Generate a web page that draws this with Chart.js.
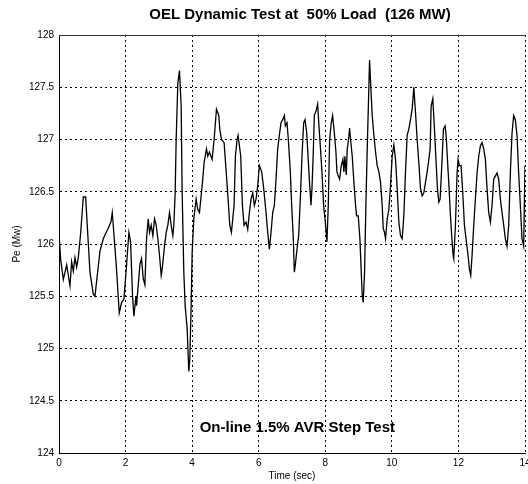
<!DOCTYPE html>
<html>
<head>
<meta charset="utf-8">
<title>OEL Dynamic Test</title>
<script src="https://cdn.jsdelivr.net/npm/chart.js@4.4.1/dist/chart.umd.min.js"></script>
<style>
  body { margin: 0; background: #fff; }
  canvas { display: block; }
</style>
</head>
<body>
<canvas id="myChart" width="528" height="484"></canvas>
<script>
'use strict';

let chartTitle = 'OEL Dynamic Test at  50% Load  (126 MW)';
let noteText = 'On-line 1.5% AVR Step Test';
let xTitle = 'Time (sec)';
let yTitle = 'Pe (Mw)';

let xTicks = [0, 2, 4, 6, 8, 10, 12, 14];
let xTickLabels = ['0', '2', '4', '6', '8', '10', '12', '14'];
let yTicks = [124, 124.5, 125, 125.5, 126, 126.5, 127, 127.5, 128];
let yTickLabels = ['124', '124.5', '125', '125.5', '126', '126.5', '127', '127.5', '128'];

// time (sec)
let timeSec = [
  0.00, 0.05, 0.13, 0.23, 0.33, 0.38, 0.43, 0.48, 0.53, 0.58,
  0.65, 0.73, 0.80, 0.93, 1.03, 1.08, 1.23, 1.33, 1.43, 1.48,
  1.56, 1.60, 1.63, 1.73, 1.81, 1.88, 1.95, 2.03, 2.10, 2.15,
  2.21, 2.25, 2.31, 2.33, 2.43, 2.48, 2.53, 2.58, 2.63, 2.68,

  2.72, 2.77, 2.82, 2.87, 2.92, 2.97, 3.02, 3.07, 3.10, 3.17,
  3.22, 3.27, 3.32, 3.37, 3.42, 3.45, 3.49, 3.52, 3.57, 3.62,
  3.67, 3.70, 3.75, 3.79, 3.85, 3.90, 3.93, 3.97, 4.00, 4.05,
  4.12, 4.17, 4.22, 4.27, 4.31, 4.36, 4.43, 4.47, 4.52, 4.60,
  4.66, 4.73, 4.80, 4.83, 4.88, 4.96, 5.01, 5.08, 5.13, 5.18,
  5.26, 5.30, 5.35, 5.38, 5.46, 5.51, 5.56,

  5.62, 5.67, 5.72, 5.77, 5.82, 5.87, 5.92, 5.97, 6.02, 6.09,
  6.15, 6.22, 6.27, 6.32, 6.37, 6.42, 6.47, 6.52, 6.57, 6.62,
  6.67, 6.72, 6.77, 6.80, 6.85, 6.89, 6.95, 6.99, 7.04, 7.07,
  7.10, 7.15, 7.20, 7.25, 7.30, 7.35, 7.39, 7.44, 7.47, 7.52,
  7.57, 7.60, 7.64, 7.67, 7.72, 7.77, 7.81, 7.85, 7.90, 7.95,
  8.00, 8.05, 8.09, 8.13, 8.18, 8.22, 8.27, 8.32, 8.35,

  8.38, 8.43, 8.48, 8.53, 8.56, 8.59, 8.63, 8.66, 8.70, 8.73,
  8.76, 8.81, 8.86, 8.91, 8.94, 8.99, 9.04, 9.08, 9.11, 9.14,
  9.18, 9.22, 9.26, 9.30, 9.33, 9.36, 9.41, 9.46, 9.51, 9.56,
  9.61, 9.66, 9.71, 9.74, 9.78, 9.81, 9.86, 9.91, 9.96, 10.01,
  10.06, 10.11, 10.16, 10.21, 10.26, 10.31, 10.36, 10.41, 10.46, 10.51,
  10.56, 10.61, 10.66, 10.71, 10.76, 10.81, 10.86, 10.91, 10.96, 11.01,
  11.06,

  11.10, 11.15, 11.18, 11.23, 11.27, 11.32, 11.37, 11.41, 11.45, 11.50,
  11.55, 11.60, 11.63, 11.67, 11.72, 11.76, 11.81, 11.84, 11.86, 11.91,
  11.96, 11.99, 12.03, 12.08, 12.13, 12.18, 12.24, 12.29, 12.33, 12.37,
  12.41, 12.46, 12.51, 12.56, 12.61, 12.66, 12.71, 12.76, 12.81, 12.86,
  12.91, 12.96, 13.01, 13.06, 13.11, 13.16, 13.21, 13.26, 13.31, 13.36,
  13.41, 13.46, 13.51, 13.56, 13.61, 13.66, 13.71, 13.76, 13.81, 13.86,
  13.91, 13.96, 14.00
];

// electrical power Pe (MW), same order as timeSec
let powerMw = [
  126.10, 125.85, 125.66, 125.80, 125.60, 125.83, 125.74, 125.87, 125.78, 125.87,
  126.10, 126.45, 126.45, 125.73, 125.52, 125.50, 125.93, 126.05, 126.12, 126.15,
  126.21, 126.30, 126.18, 125.75, 125.34, 125.44, 125.47, 125.80, 126.11, 126.02,
  125.50, 125.31, 125.50, 125.41, 125.80, 125.86, 125.67, 125.61, 126.05, 126.24,

  126.11, 126.18, 126.08, 126.24, 126.18, 126.05, 125.89, 125.70, 125.76, 125.98,
  126.11, 126.18, 126.30, 126.18, 126.08, 126.18, 126.49, 127.00, 127.54, 127.66,
  127.32, 126.49, 125.73, 125.41, 125.19, 124.78, 124.90, 125.40, 125.92, 126.24,
  126.43, 126.33, 126.30, 126.46, 126.59, 126.78, 126.91, 126.84, 126.88, 126.81,
  127.00, 127.29, 127.23, 127.10, 127.00, 126.97, 126.75, 126.43, 126.18, 126.11,
  126.37, 126.84, 127.00, 127.04, 126.84, 126.37, 126.18,

  126.21, 126.14, 126.30, 126.43, 126.49, 126.37, 126.43, 126.56, 126.75, 126.69,
  126.53, 126.30, 126.11, 125.95, 126.11, 126.30, 126.37, 126.62, 126.91, 127.04,
  127.16, 127.19, 127.23, 127.13, 127.16, 127.00, 126.69, 126.37, 126.05, 125.73,
  125.80, 125.95, 126.08, 126.43, 126.84, 127.16, 127.19, 127.07, 126.91, 126.62,
  126.37, 126.53, 126.88, 127.23, 127.27, 127.34, 127.13, 126.94, 126.69, 126.37,
  126.21, 126.02, 126.37, 127.00, 127.16, 127.23, 127.07, 126.88, 126.69,

  126.66, 126.62, 126.75, 126.81, 126.69, 126.84, 126.66, 126.91, 127.00, 127.11,
  127.00, 126.84, 126.59, 126.37, 126.27, 126.27, 126.05, 125.73, 125.51, 125.44,
  125.73, 126.37, 126.91, 127.39, 127.76, 127.55, 127.23, 127.04, 126.88, 126.75,
  126.69, 126.59, 126.37, 126.15, 126.11, 126.05, 126.24, 126.33, 126.56, 126.84,
  126.95, 126.81, 126.53, 126.21, 126.08, 126.05, 126.27, 126.69, 127.04, 127.10,
  127.19, 127.29, 127.50, 127.26, 127.00, 126.78, 126.53, 126.46, 126.49, 126.59,
  126.69,

  126.78, 126.91, 127.32, 127.39, 127.16, 126.84, 126.53, 126.40, 126.43, 126.75,
  127.10, 127.13, 127.04, 126.81, 126.53, 126.27, 126.02, 125.89, 125.86, 126.18,
  126.68, 126.81, 126.75, 126.75, 126.49, 126.18, 126.02, 125.89, 125.76, 125.70,
  125.89, 126.18, 126.43, 126.68, 126.84, 126.94, 126.97, 126.91, 126.81, 126.53,
  126.30, 126.21, 126.37, 126.62, 126.65, 126.68, 126.62, 126.43, 126.30, 126.18,
  126.05, 125.98, 126.18, 126.68, 127.06, 127.23, 127.19, 127.04, 126.68, 126.37,
  126.05, 125.98, 126.75
];

let fontFamily = '"Liberation Sans", Arial, Helvetica, sans-serif';
Chart.defaults.font.family = fontFamily;
Chart.defaults.color = '#000';

let points = [];
for (let i = 0; i < timeSec.length; i++) {
  points.push({ x: timeSec[i], y: powerMw[i] });
}

// title, note text and the solid top edge of the box
let textPlugin = {
  id: 'textPlugin',
  afterDraw(chart) {
    let ctx = chart.ctx;
    let area = chart.chartArea;
    ctx.save();
    ctx.strokeStyle = '#333';
    ctx.lineWidth = 1;
    ctx.beginPath();
    ctx.moveTo(area.left, Math.floor(area.top) + 0.5);
    ctx.lineTo(area.right, Math.floor(area.top) + 0.5);
    ctx.stroke();

    ctx.fillStyle = '#000';
    ctx.font = 'bold 15px ' + fontFamily;
    ctx.textAlign = 'center';
    ctx.textBaseline = 'middle';
    ctx.fillText(chartTitle, (area.left + area.right) / 2 + 8, 15);

    let nx = chart.scales.x.getPixelForValue(7.16);
    let ny = chart.scales.y.getPixelForValue(124.24);
    ctx.fillText(noteText, nx, ny);
    ctx.restore();
  }
};

let ctx = document.getElementById('myChart').getContext('2d');

new Chart(ctx, {
  type: 'line',
  data: {
    datasets: [{
      label: 'Pe',
      data: points,
      borderColor: '#000',
      borderWidth: 1.3,
      pointRadius: 0,
      tension: 0,
      fill: false
    }]
  },
  options: {
    responsive: false,
    animation: false,
    devicePixelRatio: 1,
    layout: {
      padding: { top: 35, right: 3, left: 0, bottom: 0 }
    },
    plugins: {
      legend: { display: false },
      title: { display: false },
      tooltip: { enabled: false }
    },
    scales: {
      x: {
        type: 'linear',
        min: 0,
        max: 14,
        afterBuildTicks: function (axis) {
          axis.ticks = xTicks.map(v => ({ value: v }));
        },
        afterFit: function (axis) {
          axis.height = 31;
          axis.paddingLeft = 0;
          axis.paddingRight = 0;
        },
        ticks: {
          callback: (v, i) => xTickLabels[i],
          font: { size: 10 },
          padding: 4,
          maxRotation: 0,
          autoSkip: false
        },
        grid: { color: '#000', lineWidth: 1, drawTicks: false },
        border: { display: true, color: '#000', width: 1, dash: [2, 3] },
        title: {
          display: true,
          text: xTitle,
          font: { size: 10 },
          padding: { top: 0, bottom: 2 }
        }
      },
      y: {
        type: 'linear',
        min: 124,
        max: 128,
        afterBuildTicks: function (axis) {
          axis.ticks = yTicks.map(v => ({ value: v }));
        },
        afterFit: function (axis) {
          axis.width = 59;
          axis.paddingTop = 0;
          axis.paddingBottom = 0;
        },
        ticks: {
          callback: (v, i) => yTickLabels[i],
          font: { size: 10 },
          padding: 5,
          autoSkip: false
        },
        grid: { color: '#000', lineWidth: 1, drawTicks: false },
        border: { display: true, color: '#000', width: 1, dash: [2, 3] },
        title: {
          display: true,
          text: yTitle,
          font: { size: 10 },
          padding: { top: 11, bottom: 0 }
        }
      }
    }
  },
  plugins: [textPlugin]
});
</script>
</body>
</html>
